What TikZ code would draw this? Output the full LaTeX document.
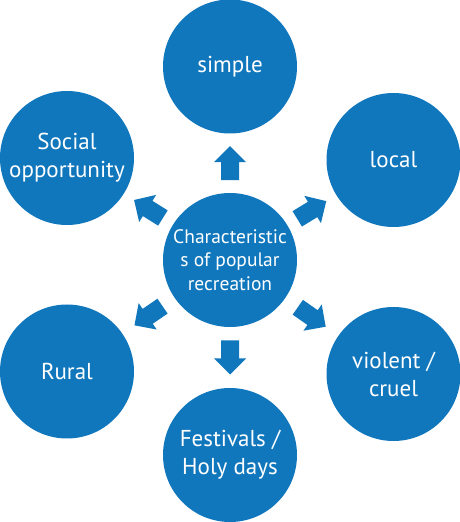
\documentclass[tikz,border=0pt]{standalone}
\usepackage{fontspec}
\setmainfont{PT Sans}
\usetikzlibrary{calc}
\definecolor{recblue}{RGB}{17,119,189}
\tikzset{
  topic/.style={circle, fill=recblue, text=white, minimum size=134pt, inner sep=0pt,
    align=center, font=\fontsize{23}{28}\selectfont},
  hub/.style={topic, font=\fontsize{19.5}{23.3}\selectfont},
}
\begin{document}
\begin{tikzpicture}[x=1pt, y=1pt]
  \useasboundingbox (0,0) rectangle (460,522);
  % centre
  \node[hub] (hub) at (230,262) {Characteristic\\s of popular\\recreation};
  % characteristics round it
  \node[topic] (simple)    at (230,455.5) {simple};
  \node[topic] (local)     at (393.5,362) {local};
  \node[topic] (violent)   at (393.5,148) {violent /\\cruel};
  \node[topic] (festivals) at (230,67)    {Festivals /\\Holy days};
  \node[topic] (rural)     at (67,150.5)  {Rural};
  \node[topic] (social)    at (67,364)    {Social\\opportunity};
  % block arrows, half way from the centre
  \foreach \n in {simple,local,violent,festivals,rural,social} {
    \pgfmathanglebetweenpoints{\pgfpointanchor{hub}{center}}{\pgfpointanchor{\n}{center}}
    \let\ang\pgfmathresult
    \begin{scope}[shift={($(hub)!0.5!(\n)$)}, rotate=\ang]
      \fill[recblue] (-17,-9) -- (1,-9) -- (1,-16) -- (17,0) -- (1,16) -- (1,9) -- (-17,9) -- cycle;
    \end{scope}
  }
\end{tikzpicture}
\end{document}
